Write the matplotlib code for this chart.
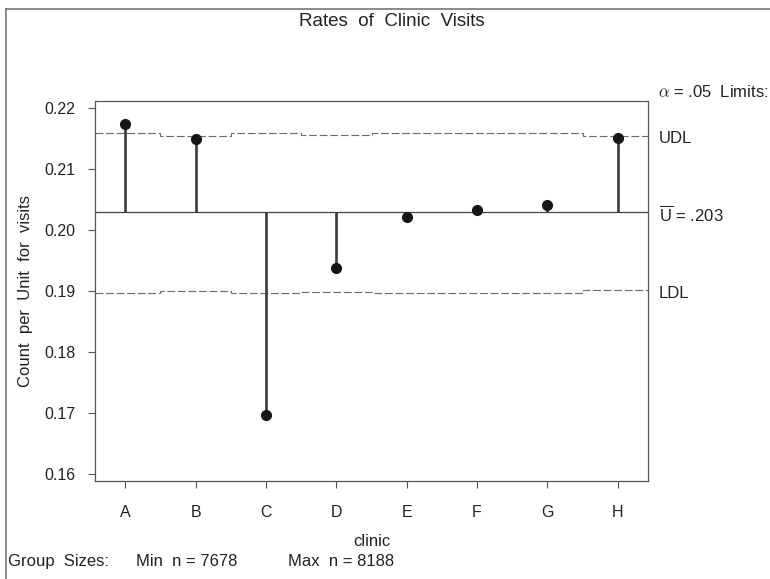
import numpy as np
import matplotlib
matplotlib.use("Agg")
import matplotlib.pyplot as plt
from matplotlib.lines import Line2D
from matplotlib.transforms import offset_copy

plt.rcParams['font.family'] = ['Liberation Sans', 'DejaVu Sans']
plt.rcParams['mathtext.fontset'] = 'custom'
plt.rcParams['mathtext.rm'] = 'Liberation Sans'
plt.rcParams['mathtext.it'] = 'Liberation Sans:italic'

# data
clinics = ['A', 'B', 'C', 'D', 'E', 'F', 'G', 'H']
rates = [0.2175, 0.2150, 0.1697, 0.1938, 0.2022, 0.2033, 0.2041, 0.2152]
udl = [0.2159, 0.2155, 0.2159, 0.2156, 0.2160, 0.2160, 0.2160, 0.2155]
ldl = [0.1898, 0.1901, 0.1897, 0.1899, 0.1898, 0.1898, 0.1898, 0.1902]
u_bar = 0.203
y_ticks = [0.16, 0.17, 0.18, 0.19, 0.20, 0.21, 0.22]
n_min, n_max = 7678, 8188

W, H = 770, 579
fig = plt.figure(figsize=(W / 100, H / 100), dpi=100)
ax = fig.add_axes([95 / W, 1 - 481 / H, (648 - 95) / W, (481 - 100.7) / H])

x = np.arange(len(clinics))
xlim = (-0.43, 7.43)
edges = np.concatenate(([xlim[0]], x[:-1] + 0.5, [xlim[1]]))

dash_kw = dict(color='#6a6a6a', lw=0.8, linestyle=(0, (7, 2.5)), baseline=None)
ax.stairs(udl, edges, **dash_kw)
ax.stairs(ldl, edges, **dash_kw)
ax.axhline(u_bar, color='#444444', lw=0.9, zorder=2)

ax.vlines(x, u_bar, rates, color='#3a3a3a', lw=1.9, zorder=3)
ax.plot(x, rates, 'o', color='#161616', ms=7, zorder=4)

ax.set_xlim(*xlim)
ax.set_ylim(0.1589, 0.22125)
ax.set_xticks(x)
ax.set_xticklabels(clinics)
ax.set_yticks(y_ticks)
ax.set_yticklabels([f'{v:.2f}' for v in y_ticks])

for s in ax.spines.values():
    s.set_color('#555555')
    s.set_linewidth(0.9)
ax.tick_params(axis='both', direction='out', length=5, width=0.8, color='#555555',
               labelsize=11.5, labelcolor='#222222')
ax.tick_params(axis='y', pad=9)
ax.tick_params(axis='x', pad=12.5)

txt = dict(color='#222222', fontsize=12)

# text
fig.text(392 / W, 1 - 22 / H, 'Rates  of  Clinic  Visits', ha='center', va='center',
         fontsize=13.5, color='#222222')
fig.text(371.5 / W, 1 - 541.7 / H, 'clinic', ha='center', va='center', **txt)
fig.text(26 / W, 1 - 291 / H, 'Count  per  Unit  for  visits', rotation=90, ha='center',
         va='center', **txt)
gy = 1 - 561.7 / H
fig.text(8 / W, gy, 'Group  Sizes:', ha='left', va='center', **txt)
fig.text(136 / W, gy, f'Min  n = {n_min}', ha='left', va='center', **txt)
fig.text(288 / W, gy, f'Max  n = {n_max}', ha='left', va='center', **txt)

# right-hand limit labels
fig.text(658 / W, 1 - 92.3 / H, r'$\alpha$ = .05  Limits:', ha='left', va='center',
         math_fontfamily='cm', **txt)
trans = offset_copy(ax.get_yaxis_transform(), fig=fig, x=0, y=-3, units='dots')
lab_ax = (659 - 95) / (648 - 95)
ax.text(lab_ax, udl[-1], 'UDL', transform=trans, ha='left', va='center',
        clip_on=False, **txt)
ax.text(lab_ax, u_bar, r'$\overline{\mathrm{U}}$ = .203', transform=trans, ha='left',
        va='center', clip_on=False, **txt)
ax.text(lab_ax, ldl[-1], 'LDL', transform=trans, ha='left', va='center',
        clip_on=False, **txt)

# outer frame (left and top edges visible)
fig.add_artist(Line2D([6 / W, 6 / W], [0, 1 - 9 / H], transform=fig.transFigure,
                      color='#777777', lw=1.2))
fig.add_artist(Line2D([6 / W, 1], [1 - 9 / H, 1 - 9 / H], transform=fig.transFigure,
                      color='#777777', lw=1.2))

fig.savefig('out.png', dpi=100)
